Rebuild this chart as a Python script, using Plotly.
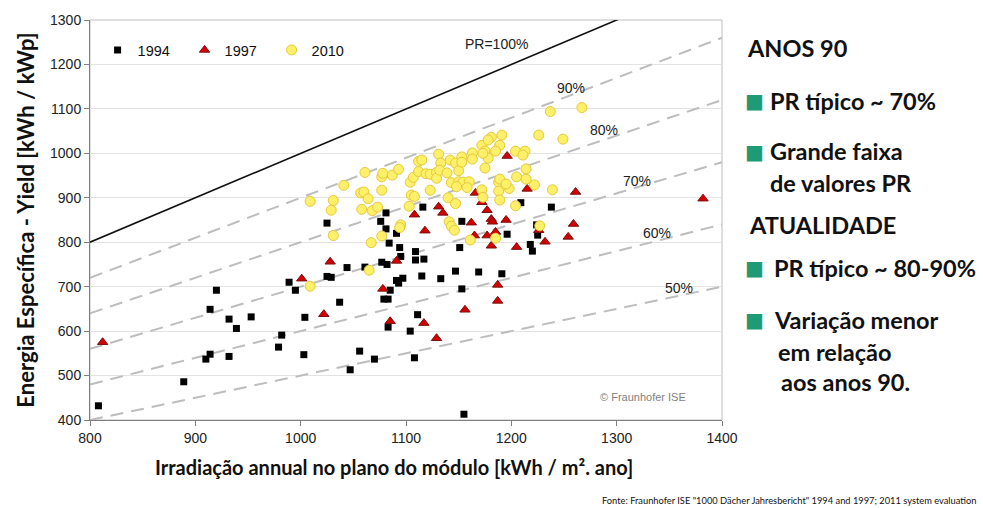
import plotly.graph_objects as go

# ---------------- data ----------------
x_1994 = [808, 889, 910, 914, 932, 914, 920, 932, 939, 953, 979, 982, 989, 995, 1004, 1003,
          1025, 1025, 1029, 1037, 1044, 1061, 1056, 1047, 1070, 1077, 1082, 1081, 1076, 1081,
          1084, 1091, 1094, 1095, 1091, 1093, 1097, 1085, 1079, 1083, 1083, 1111, 1104, 1108,
          1109, 1109, 1117, 1116, 1115, 1133, 1147, 1151, 1153, 1153, 1169, 1191, 1196, 1155,
          1209, 1238, 1224, 1225, 1218, 1220]
y_1994 = [432, 486, 537, 548, 543, 649, 692, 627, 606, 632, 564, 591, 710, 692, 631, 547,
          843, 723, 721, 665, 743, 744, 555, 513, 537, 755, 750, 866, 847, 830,
          798, 820, 788, 768, 714, 708, 719, 692, 672, 672, 609, 637, 600, 540,
          779, 760, 762, 879, 724, 718, 735, 788, 847, 695, 733, 729, 818, 413,
          889, 879, 839, 816, 795, 780]

x_1997 = [812, 1001, 1028, 1022, 1078, 1085, 1091, 1108, 1118, 1117, 1129, 1131, 1135, 1156,
          1162, 1166, 1172, 1177, 1181, 1182, 1165, 1177, 1185, 1181, 1195, 1196, 1187, 1187,
          1205, 1215, 1261, 1382, 1259, 1226, 1254, 1232]
y_1997 = [575, 718, 756, 638, 695, 622, 758, 862, 826, 618, 584, 880, 866, 648,
          844, 911, 890, 872, 852, 846, 815, 815, 823, 792, 850, 994, 704, 668,
          789, 920, 913, 898, 841, 827, 812, 801]

x_2010 = [1009, 1031, 1029, 1041, 1061, 1057, 1060, 1064, 1058, 1068, 1073, 1031, 1067, 1077,
          1065, 1009, 1077, 1077, 1078, 1087, 1093, 1095, 1094, 1103, 1105, 1108, 1104, 1107,
          1112, 1112, 1115, 1123, 1119, 1123, 1129, 1129, 1131, 1133, 1132, 1139, 1142, 1147,
          1153, 1150, 1143, 1150, 1154, 1160, 1158, 1148, 1140, 1147, 1141, 1143, 1146, 1163,
          1163, 1172, 1175, 1178, 1181, 1178, 1189, 1191, 1185, 1175, 1172, 1173, 1188, 1189,
          1188, 1189, 1198, 1204, 1185, 1161, 1237, 1267, 1226, 1249, 1173, 1204, 1213, 1211,
          1214, 1195, 1205, 1214, 1222, 1239, 1227, 1153]
y_2010 = [892, 894, 872, 928, 957, 911, 913, 898, 874, 871, 879, 815, 799, 814,
          737, 701, 917, 947, 955, 951, 964, 839, 833, 881, 906, 903, 935, 946,
          959, 982, 985, 917, 954, 953, 957, 944, 998, 978, 962, 956, 985, 978,
          992, 961, 934, 936, 935, 936, 923, 925, 900, 887, 846, 836, 827, 1001,
          987, 1018, 1005, 989, 1036, 1030, 1018, 1041, 1005, 967, 918, 901, 935, 942,
          915, 895, 921, 882, 809, 805, 1094, 1103, 1041, 1032, 1000, 1005, 1005, 996,
          965, 931, 947, 942, 929, 918, 837, 980]

pr_levels = [1.0, 0.9, 0.8, 0.7, 0.6, 0.5]
pr_labels = ["PR=100%", "90%", "80%", "70%", "60%", "50%"]
pr_label_x = [1186, 1257, 1288, 1319, 1338, 1359]
pr_label_y = [1245, 1148, 1053, 938, 820, 697]
irr_range = [800, 1400]

x_ticks = [800, 900, 1000, 1100, 1200, 1300, 1400]
y_ticks = [400, 500, 600, 700, 800, 900, 1000, 1100, 1200, 1300]

# ---------------- figure ----------------
fig = go.Figure()

for pr in pr_levels:
    ys = [pr * v for v in irr_range]
    if pr == 1.0:
        line = dict(color="#111111", width=1.6)
    else:
        line = dict(color="#BDBDBD", width=2, dash="13px,8px")
    fig.add_trace(go.Scatter(x=irr_range, y=ys, mode="lines", line=line,
                             showlegend=False, hoverinfo="skip"))

fig.add_trace(go.Scatter(x=x_1994, y=y_1994, mode="markers", name="1994",
                         marker=dict(symbol="square", size=7, color="#000000",
                                     line=dict(width=0))))
fig.add_trace(go.Scatter(x=x_1997, y=y_1997, mode="markers", name="1997",
                         marker=dict(symbol="triangle-up", size=9, color="#D40000",
                                     line=dict(width=1, color="#7A1010"))))
fig.add_trace(go.Scatter(x=x_2010, y=y_2010, mode="markers", name="2010",
                         marker=dict(symbol="circle", size=10, color="#FFF06A",
                                     line=dict(width=1, color="#E6C83A"))))

for t, lx, ly in zip(pr_labels, pr_label_x, pr_label_y):
    fig.add_annotation(x=lx, y=ly, text=t, showarrow=False,
                       font=dict(family="Liberation Sans, Arial", size=14, color="#222"))

fig.add_annotation(x=1325, y=452, text="© Fraunhofer ISE", showarrow=False,
                   font=dict(family="Liberation Sans, Arial", size=11, color="#7f7f7f"))

# frame
fig.add_shape(type="rect", xref="paper", yref="paper", x0=0, y0=0, x1=1, y1=1,
              line=dict(color="#BFBFBF", width=1), layer="below")

# right text panel
W, H = 632.0, 400.0
def px(xp):
    return (xp - 90) / W
def py(yp):
    return (420 - yp) / H

green = "#1F9A77"
tfont = dict(family="Lato, Noto Sans, sans-serif", size=23.5, color="#111", weight="bold")
panel = [
    ("ANOS 90", 745, 48),
    ("PR típico ~ 70%", 768, 101),
    ("Grande faixa", 768, 151),
    ("de valores PR", 768, 183),
    ("ATUALIDADE", 747, 225),
    ("PR típico ~ 80-90%", 772, 268),
    ("Variação menor", 772, 320),
    ("em relação", 776, 352),
    ("aos anos 90.", 779, 382),
]
for t, xp, yp in panel:
    fig.add_annotation(xref="paper", yref="paper", x=px(xp), y=py(yp), text=t,
                       xanchor="left", yanchor="middle", showarrow=False, font=tfont)
for yp in [101, 152, 268, 320]:
    fig.add_annotation(xref="paper", yref="paper", x=px(743), y=py(yp), text="■",
                       xanchor="left", yanchor="middle", showarrow=False,
                       font=dict(family="DejaVu Sans", size=20, color=green))

# x-axis title (placed as annotation to match the original's slight left offset)
fig.add_annotation(xref="paper", yref="paper", x=px(394), y=py(467),
                   text="Irradiação annual no plano do módulo [kWh / m². ano]",
                   xanchor="center", yanchor="middle", showarrow=False,
                   font=dict(family="Lato, sans-serif", size=20, color="#111", weight="bold"))

fig.add_annotation(xref="paper", yref="paper", x=px(978), y=py(500),
                   text='Fonte: Fraunhofer ISE "1000 Dächer Jahresbericht" 1994 and 1997; 2011 system evaluation',
                   xanchor="right", yanchor="middle", showarrow=False,
                   font=dict(family="Lato, sans-serif", size=9.3, color="#111"))

fig.update_layout(
    width=983, height=508,
    margin=dict(l=90, r=261, t=20, b=88),
    paper_bgcolor="white", plot_bgcolor="white",
    showlegend=True,
    legend=dict(orientation="h", x=0.012, y=0.965, xanchor="left", yanchor="top",
                bgcolor="rgba(0,0,0,0)", font=dict(family="Liberation Sans, Arial", size=14.5, color="#111"),
                entrywidth=42, itemwidth=30, tracegroupgap=0),
    xaxis=dict(range=[800, 1400], tickvals=x_ticks, showgrid=False, zeroline=False,
               showline=True, linecolor="#7f7f7f", linewidth=1, ticks="outside", ticklen=5,
               tickcolor="#7f7f7f",
               tickfont=dict(family="Liberation Sans, Arial", size=14, color="#222")),
    yaxis=dict(range=[400, 1300], tickvals=y_ticks, showgrid=True, gridcolor="#E3E3E3",
               zeroline=False, showline=True, linecolor="#7f7f7f", linewidth=1,
               ticks="outside", ticklen=5, tickcolor="#7f7f7f",
               tickfont=dict(family="Liberation Sans, Arial", size=14, color="#222"),
               title=dict(text="Energia Específica - Yield [kWh / kWp]", standoff=9,
                          font=dict(family="Lato, sans-serif", size=22, color="#111", weight="bold"))),
)

fig.write_html("out.html")
